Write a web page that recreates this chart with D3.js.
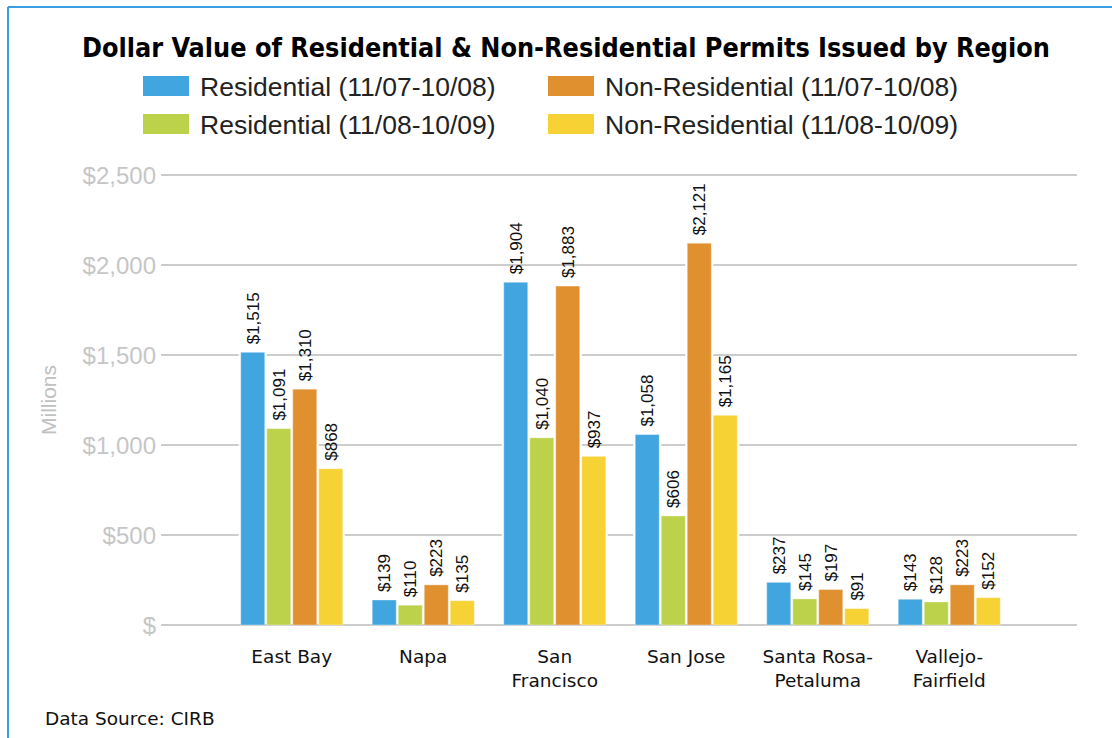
<!DOCTYPE html>
<html>
<head>
<meta charset="utf-8">
<script src="https://cdn.jsdelivr.net/npm/d3@7"></script>
<style>
  body { margin: 0; background: #fff; }
  #chart { width: 1112px; height: 738px; }
</style>
</head>
<body>
<div id="chart"></div>
<script>
// regions and the four permit series (values in $ millions)
const regions = ["East Bay", "Napa", "San Francisco", "San Jose", "Santa Rosa-Petaluma", "Vallejo-Fairfield"];
const regionLines = [["East Bay"], ["Napa"], ["San", "Francisco"], ["San Jose"], ["Santa Rosa-", "Petaluma"], ["Vallejo-", "Fairfield"]];
const seriesNames = ["Residential (11/07-10/08)", "Residential (11/08-10/09)", "Non-Residential (11/07-10/08)", "Non-Residential (11/08-10/09)"];
const res0708 = [1515, 139, 1904, 1058, 237, 143];
const res0809 = [1091, 110, 1040, 606, 145, 128];
const nonres0708 = [1310, 223, 1883, 2121, 197, 223];
const nonres0809 = [868, 135, 937, 1165, 91, 152];
const yTicks = [0, 500, 1000, 1500, 2000, 2500];

const colors = ["#41a6e0", "#bdd24b", "#e0902f", "#f6d234"];
const seriesValues = [res0708, res0809, nonres0708, nonres0809];

const width = 1112, height = 738;

const svg = d3.select("#chart").append("svg")
    .attr("width", width)
    .attr("height", height);

// blue frame on top and left
svg.append("line").attr("x1", 8).attr("x2", width).attr("y1", 7).attr("y2", 7)
    .attr("stroke", "#3b9de2").attr("stroke-width", 2);
svg.append("line").attr("x1", 8).attr("x2", 8).attr("y1", 7).attr("y2", height)
    .attr("stroke", "#3b9de2").attr("stroke-width", 2);

// Title
svg.append("text")
    .attr("x", 82).attr("y", 57)
    .attr("textLength", 968)
    .attr("lengthAdjust", "spacingAndGlyphs")
    .style("font-family", "'DejaVu Sans Condensed', 'DejaVu Sans', sans-serif")
    .style("font-weight", "bold")
    .style("font-size", "26px")
    .style("fill", "#000")
    .text("Dollar Value of Residential & Non-Residential Permits Issued by Region");

// Legend (2 x 2)
const legendPos = [[143, 76], [143, 114], [548, 76], [548, 114]];
const legend = svg.append("g").selectAll("g")
    .data(seriesNames)
    .enter().append("g")
    .attr("transform", (d, i) => "translate(" + legendPos[i][0] + "," + legendPos[i][1] + ")");

legend.append("rect")
    .attr("width", 46).attr("height", 20)
    .attr("fill", (d, i) => colors[i]);

legend.append("text")
    .attr("x", 57).attr("y", 10)
    .attr("dy", "0.36em")
    .style("font-family", "'Liberation Sans', Arial, sans-serif")
    .style("font-size", "26.5px")
    .style("fill", "#222")
    .text(d => d);

// scales
const y = d3.scaleLinear().domain([0, 2500]).range([625, 175]);
const x0 = d3.scaleBand().domain(regions).range([226, 1015]).paddingInner(0.224).paddingOuter(0.112);
const x1 = d3.scaleBand().domain(d3.range(4)).range([0, x0.bandwidth()]).paddingInner(0.077);

// grid + tick labels
svg.append("g").selectAll("line")
    .data(yTicks)
    .enter().append("line")
    .attr("x1", 161).attr("x2", 1077)
    .attr("y1", d => y(d)).attr("y2", d => y(d))
    .attr("stroke", "#cccccc")
    .attr("stroke-width", 2);

svg.append("g").selectAll("text")
    .data(yTicks)
    .enter().append("text")
    .attr("x", 156)
    .attr("y", d => y(d))
    .attr("dy", "0.36em")
    .attr("text-anchor", "end")
    .style("font-family", "'Liberation Sans', Arial, sans-serif")
    .style("font-size", "24px")
    .style("fill", "#c6c6c6")
    .text(d => d === 0 ? "$" : "$" + d3.format(",")(d));

svg.append("text")
    .attr("transform", "translate(48,400) rotate(-90)")
    .attr("text-anchor", "middle")
    .attr("dy", "0.36em")
    .style("font-family", "'Liberation Sans', Arial, sans-serif")
    .style("font-size", "21px")
    .style("fill", "#c0c0c0")
    .text("Millions");

// bars
const barData = [];
regions.forEach((r, ri) => {
    seriesValues.forEach((vals, si) => {
        barData.push({region: r, series: si, value: vals[ri]});
    });
});

const bars = svg.append("g");

// white halo so the grid lines stop short of each bar
bars.selectAll(".halo")
    .data(barData)
    .enter().append("rect")
    .attr("class", "halo")
    .attr("x", d => x0(d.region) + x1(d.series) - 2)
    .attr("y", d => y(d.value) - 2)
    .attr("width", x1.bandwidth() + 4)
    .attr("height", d => y(0) - y(d.value) + 1)
    .attr("fill", "#fff");

bars.selectAll(".bar")
    .data(barData)
    .enter().append("rect")
    .attr("class", "bar")
    .attr("x", d => x0(d.region) + x1(d.series))
    .attr("y", d => y(d.value))
    .attr("width", x1.bandwidth())
    .attr("height", d => y(0) - y(d.value))
    .attr("fill", d => colors[d.series])
    .attr("stroke", "#fff")
    .attr("stroke-opacity", 0.35)
    .attr("stroke-width", 1);

// value labels, rotated
bars.selectAll(".lbl")
    .data(barData)
    .enter().append("text")
    .attr("class", "lbl")
    .attr("transform", d => "translate(" + (x0(d.region) + x1(d.series) + x1.bandwidth() / 2) + "," + (y(d.value) - 8) + ") rotate(-90)")
    .attr("dy", "0.36em")
    .style("font-family", "'Liberation Sans', Arial, sans-serif")
    .style("font-size", "17px")
    .style("fill", "#111")
    .text(d => "$" + d3.format(",")(d.value));

// region labels
const xl = svg.append("g").selectAll("text")
    .data(regions)
    .enter().append("text")
    .attr("x", d => x0(d) + x0.bandwidth() / 2)
    .attr("y", 663)
    .attr("text-anchor", "middle")
    .style("font-family", "'DejaVu Sans', sans-serif")
    .style("font-size", "18.5px")
    .style("fill", "#111");

xl.selectAll("tspan")
    .data((d, i) => regionLines[i])
    .enter().append("tspan")
    .attr("x", function() { return d3.select(this.parentNode).attr("x"); })
    .attr("dy", (d, i) => i === 0 ? 0 : 24)
    .text(d => d);

// source note
svg.append("text")
    .attr("x", 45).attr("y", 725)
    .style("font-family", "'DejaVu Sans', sans-serif")
    .style("font-size", "18.5px")
    .style("fill", "#111")
    .text("Data Source: CIRB");
</script>
</body>
</html>
